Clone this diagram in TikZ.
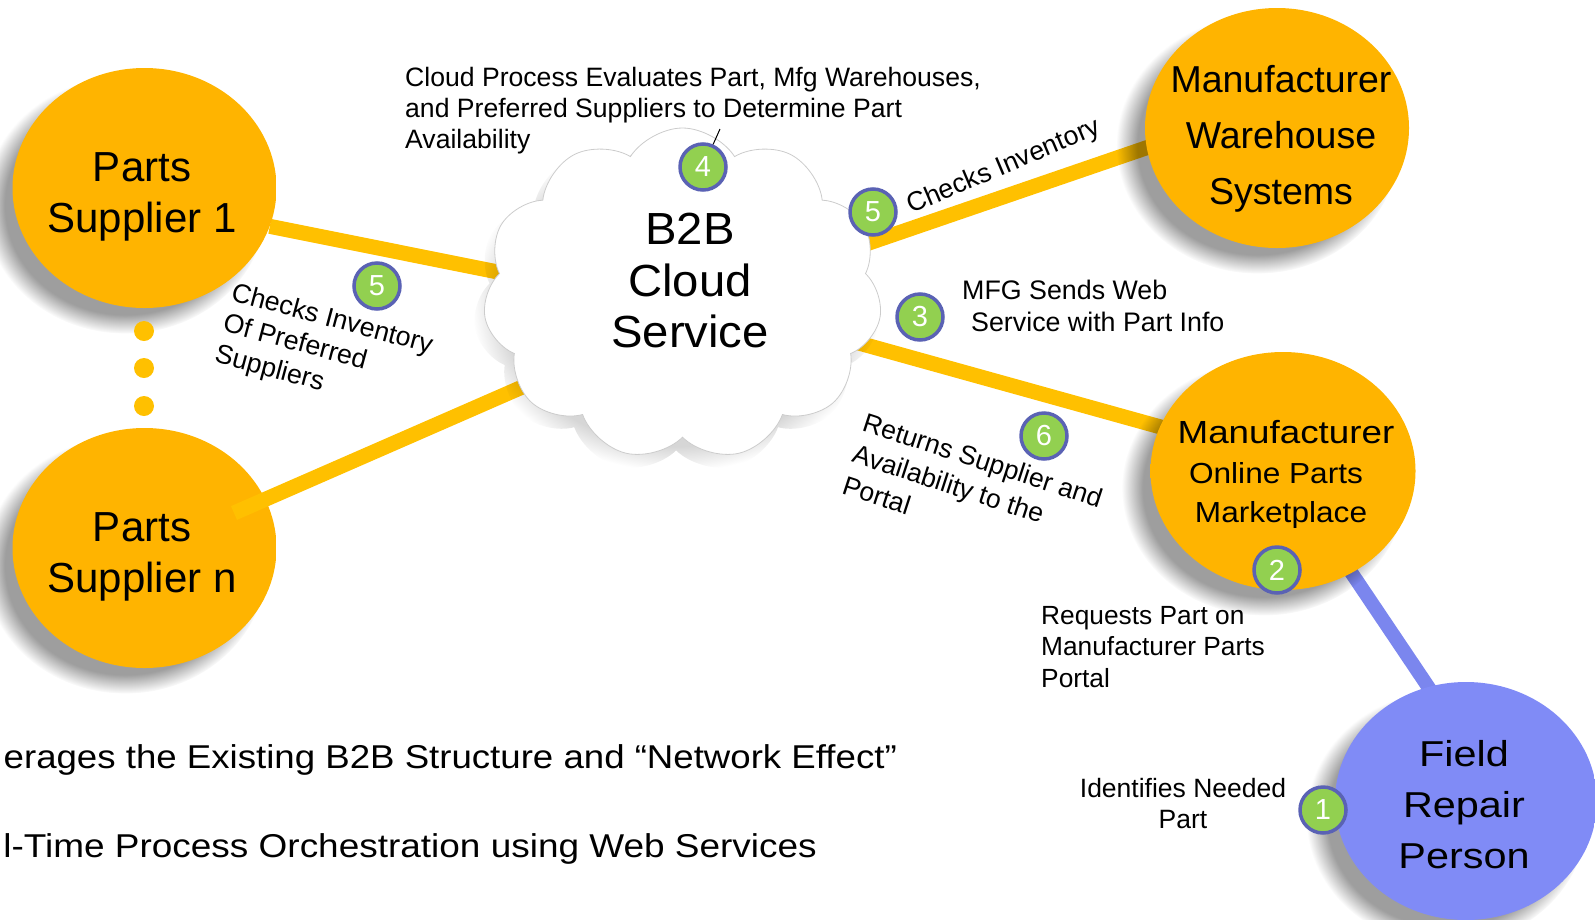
\documentclass[tikz,border=0pt]{standalone}
\usepackage{graphicx}
\usepackage{fontspec}
\setmainfont{Liberation Sans}
\usetikzlibrary{shapes.geometric,shapes.symbols,shadows,fadings}
\definecolor{orb}{HTML}{FFB400}
\definecolor{orbrim}{HTML}{FFE27A}
\definecolor{linkc}{HTML}{FFC000}
\definecolor{blueorb}{HTML}{808BF6}
\definecolor{bluerim}{HTML}{CDD1FF}
\definecolor{bluelink}{HTML}{7B86EE}
\definecolor{badgefill}{HTML}{92D050}
\definecolor{badgeline}{HTML}{5A62B4}
\definecolor{cloudin}{HTML}{FFFFFF}
\definecolor{cloudedge}{HTML}{E4E4E4}
\pgfdeclareradialshading{orbshade}{\pgfpoint{0bp}{0bp}}{color(0bp)=(orb);color(44bp)=(orb);color(47.5bp)=(orbrim);color(49bp)=(orb);color(50bp)=(orb)}
\pgfdeclareradialshading{blueshade}{\pgfpoint{0bp}{0bp}}{color(0bp)=(blueorb);color(44bp)=(blueorb);color(47.5bp)=(bluerim);color(49bp)=(blueorb);color(50bp)=(blueorb)}
\pgfdeclareradialshading{cloudshade}{\pgfpoint{0bp}{0bp}}{color(0bp)=(cloudin);color(40bp)=(cloudin);color(52bp)=(cloudedge);color(60bp)=(cloudedge)}
\pgfdeclarelayer{back}
\pgfdeclarelayer{lines}
\pgfsetlayers{back,lines,main}
\newcommand\myfs[2]{\fontsize{#1}{#2}\selectfont}
\newcommand\hsq[2]{\scalebox{#1}[1]{#2}}
\begin{document}
\begin{tikzpicture}[x=1pt,y=-1pt,
  orbshadow/.style={general shadow={fill=black, opacity=0.38, shadow xshift=-18pt, shadow yshift=-16pt, shadow scale=1.07, path fading=circle with fuzzy edge 15 percent}},
  orbnode/.style={ellipse, shading=orbshade, minimum width=264pt, minimum height=240pt, inner sep=0pt, orbshadow},
  bluenode/.style={ellipse, shading=blueshade, minimum width=262pt, minimum height=238pt, inner sep=0pt, orbshadow},
  linkline/.style={draw=linkc, line width=15pt},
  blueline/.style={draw=bluelink, line width=14pt},
  dotnode/.style={circle, fill=linkc, minimum size=20pt, inner sep=0pt},
  badge/.style={circle, fill=badgefill, draw=badgeline, line width=3.5pt, minimum size=46pt, inner sep=0pt, text=white, font=\myfs{29}{29}},
  txt/.style={inner sep=0pt, text=black},
  cloudnode/.style={cloud, cloud puffs=11, cloud puff arc=115, minimum width=399pt, minimum height=332pt, inner sep=0pt, draw=black!20, line width=0.8pt, shading=cloudshade, general shadow={fill=black, opacity=0.16, shadow xshift=-6pt, shadow yshift=-10pt, shadow scale=1.02, path fading=circle with fuzzy edge 15 percent}}
]
\useasboundingbox (0,0) rectangle (1595,919);
% nodes
\begin{pgfonlayer}{back}
\node[orbnode] (supn) at (144.5,548) {};
\end{pgfonlayer}
\node[orbnode] (sup1) at (144.5,188) {};
\node[orbnode] (wh) at (1277,128) {};
\node[orbnode, minimum width=265pt, minimum height=238pt] (mk) at (1283,471) {};
\node[bluenode] (fr) at (1466,801) {};
\node[cloudnode] (cloud) at (682.5,294) {};
\node[dotnode] (d1) at (144,331) {};
\node[dotnode] (d2) at (144,368) {};
\node[dotnode] (d3) at (144,406) {};
% connectors
\begin{pgfonlayer}{lines}
\draw[linkline] (sup1.-17) -- ([yshift=-15pt]cloud.center);
\draw[linkline] ([xshift=89.5pt,yshift=35pt]supn.center) -- ([yshift=-23pt]cloud.center);
\draw[linkline] ([yshift=-13pt]cloud.center) -- ([yshift=25pt]wh.center);
\draw[linkline] (cloud.center) -- ([yshift=10pt]mk.center);
\draw[blueline] (mk.center) -- ([xshift=39pt]fr.center);
\end{pgfonlayer}
% node texts
\node[txt, anchor=north, align=center, font=\myfs{42}{51}] (sup1t) at (142,152) {Parts\\Supplier 1};
\node[txt, anchor=north, align=center, font=\myfs{42}{51}] (supnt) at (142,512) {Parts\\Supplier n};
\node[txt, anchor=north, align=center, font=\myfs{45}{51.5}] (cloudt) at (690,213) {\hsq{1.05}{B2B}\\\hsq{1.05}{Cloud}\\\hsq{1.05}{Service}};
\node[txt, anchor=north, align=center, font=\myfs{37.5}{56}] (wht) at (1281,65) {Manufacturer\\Warehouse\\Systems};
\node[txt, anchor=base, font=\myfs{32}{32}] (mk1) at (1286,443) {\hsq{1.15}{Manufacturer}};
\node[txt, anchor=base, font=\myfs{29}{29}] (mk2) at (1276,483) {\hsq{1.09}{Online Parts}};
\node[txt, anchor=base, font=\myfs{29}{29}] (mk3) at (1281,522) {\hsq{1.09}{Marketplace}};
\node[txt, anchor=north, align=center, font=\myfs{36}{51}] (frt) at (1464,740) {\hsq{1.15}{Field}\\\hsq{1.15}{Repair}\\\hsq{1.15}{Person}};
% labels
\node[txt, anchor=north west, align=left, font=\myfs{26.6}{31}] (cpt) at (405,67) {Cloud Process Evaluates Part, Mfg Warehouses,\\and Preferred Suppliers to Determine Part\\Availability};
\node[txt, anchor=base west, rotate=23, font=\myfs{26.8}{31}] (cit) at (911,214) {Checks Inventory};
\node[txt, anchor=north west, align=left, font=\myfs{26.8}{31.5}] (mfgt) at (962,280) {MFG Sends Web\\\hspace*{9pt}Service with Part Info};
\node[txt, anchor=north west, align=left, rotate=-15, font=\myfs{26.8}{32}] (cipt) at (235,281) {Checks Inventory\\Of Preferred\\Suppliers};
\node[txt, anchor=north west, align=left, rotate=-18, font=\myfs{26.6}{33}] (rst) at (867,412) {Returns Supplier and\\Availability to the\\Portal};
\node[txt, anchor=north west, align=left, font=\myfs{26.3}{31.5}] (rpt) at (1041,606) {Requests Part on\\Manufacturer Parts\\Portal};
\node[txt, anchor=north, align=center, font=\myfs{26.5}{31}] (int) at (1183,778) {Identifies Needed\\Part};
\node[txt, anchor=base east, font=\myfs{33}{33}] (bl1) at (897,768) {\hsq{1.11}{erages the Existing B2B Structure and “Network Effect”}};
\node[txt, anchor=base east, font=\myfs{33}{33}] (bl2) at (817,857) {\hsq{1.12}{l-Time Process Orchestration using Web Services}};
% badges
\node[badge] (b4) at (703,167) {4};
\node[badge] (b5a) at (873,212) {5};
\node[badge] (b5b) at (377,286) {5};
\node[badge] (b3) at (920,317) {3};
\node[badge] (b6) at (1044,436) {6};
\node[badge] (b2) at (1277,570) {2};
\node[badge] (b1) at (1323,810) {1};
\coordinate (tip4) at (720,129);
\draw[line width=1pt] (b4) -- (tip4);
\end{tikzpicture}
\end{document}
